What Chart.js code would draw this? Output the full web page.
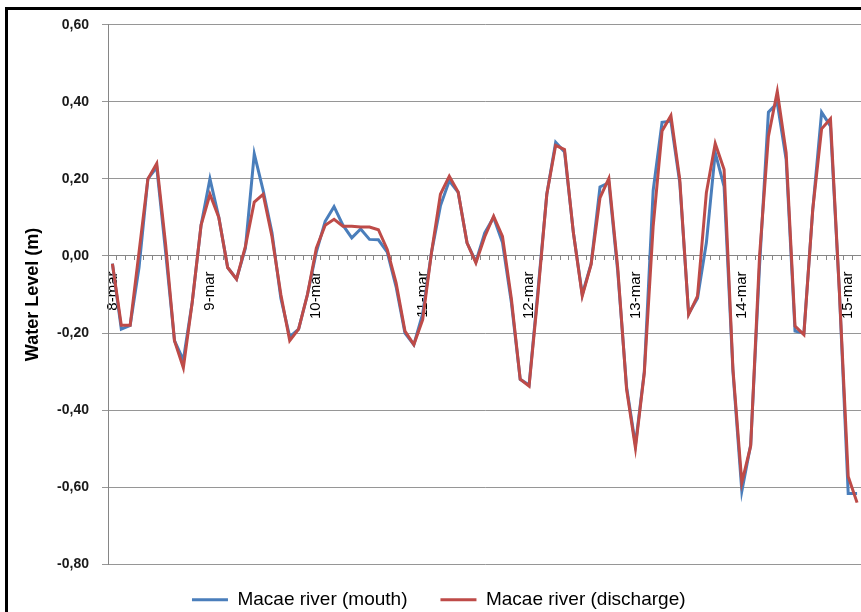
<!DOCTYPE html>
<html>
<head>
<meta charset="utf-8">
<title>Macae river water level</title>
<script src="https://cdn.jsdelivr.net/npm/chart.js@4.4.1/dist/chart.umd.min.js"></script>
<style>
  html, body { margin: 0; padding: 0; overflow: hidden; background: #fff; }
  #frame {
    position: absolute; left: 5px; top: 7px;
    border: 3px solid #000;
    width: 870px; height: 630px;
  }
  canvas { display: block; }
</style>
</head>
<body>
<div id="frame"><canvas id="chart" width="870" height="630"></canvas></div>
<script>
// Water level (m), one reading every 2 hours, 8-mar .. 15-mar
const dayLabels = ["8-mar", "9-mar", "10-mar", "11-mar", "12-mar", "13-mar", "14-mar", "15-mar"];
const dayLabelIndex = [0, 11, 23, 35, 47, 59, 71, 83];

const mouth = [
  -0.02, -0.19, -0.18, -0.03, 0.20, 0.23, 0.01, -0.22, -0.27, -0.12,
  0.08, 0.20, 0.10, -0.03, -0.06, 0.02, 0.265, 0.17, 0.06, -0.11,
  -0.21, -0.19, -0.10, 0.01, 0.09, 0.128, 0.08, 0.047, 0.07, 0.043,
  0.042, 0.01, -0.08, -0.20, -0.23, -0.15, 0.01, 0.13, 0.195, 0.165,
  0.034, -0.015, 0.06, 0.10, 0.035, -0.12, -0.32, -0.335, -0.09, 0.16,
  0.295, 0.27, 0.06, -0.10, -0.02, 0.179, 0.19, -0.04, -0.34, -0.49,
  -0.30, 0.17, 0.347, 0.35, 0.19, -0.15, -0.11, 0.034, 0.268, 0.18,
  -0.30, -0.61, -0.49, -0.026, 0.373, 0.397, 0.25, -0.195, -0.20, 0.12,
  0.373, 0.337, -0.09, -0.616, -0.616
];

const discharge = [
  -0.02, -0.18, -0.18, 0.01, 0.20, 0.24, 0.03, -0.22, -0.29, -0.12,
  0.08, 0.16, 0.10, -0.03, -0.06, 0.025, 0.14, 0.16, 0.05, -0.10,
  -0.22, -0.19, -0.10, 0.02, 0.08, 0.095, 0.077, 0.077, 0.075, 0.075,
  0.068, 0.017, -0.07, -0.195, -0.23, -0.165, 0.01, 0.16, 0.207, 0.166,
  0.034, -0.018, 0.05, 0.103, 0.051, -0.11, -0.32, -0.338, -0.10, 0.16,
  0.287, 0.276, 0.06, -0.104, -0.022, 0.151, 0.201, -0.03, -0.346, -0.498,
  -0.303, 0.077, 0.324, 0.364, 0.198, -0.152, -0.104, 0.164, 0.292, 0.224,
  -0.294, -0.588, -0.493, 0.0, 0.31, 0.427, 0.268, -0.182, -0.204, 0.12,
  0.33, 0.356, -0.09, -0.572, -0.64
];

const yMin = -0.8, yMax = 0.6, yStep = 0.2;

// category labels: only the day names are shown
const categories = mouth.map(() => "");
dayLabelIndex.forEach((idx, k) => { categories[idx] = dayLabels[k]; });

const FONT = "'Liberation Sans', Arial, sans-serif";

// scales should not push the plot area in with their label overhang
function noOverhang(scale) {
  scale.paddingTop = 0;
  scale.paddingBottom = 0;
  scale.paddingLeft = 0;
  scale.paddingRight = 0;
}

// legend sits a little closer to the plot than its padding would give
const legendLift = {
  id: "legendLift",
  afterLayout(chart) {
    chart.legend.top -= 7;
    chart.legend.bottom -= 7;
  }
};

new Chart(document.getElementById("chart"), {
  type: "line",
  data: {
    labels: categories,
    datasets: [
      {
        label: "Macae river (mouth)",
        data: mouth,
        borderColor: "#4a7ebb",
        backgroundColor: "#4a7ebb",
        borderWidth: 3,
        pointRadius: 0,
        tension: 0,
        order: 2
      },
      {
        label: "Macae river (discharge)",
        data: discharge,
        borderColor: "#be4b48",
        backgroundColor: "#be4b48",
        borderWidth: 3,
        pointRadius: 0,
        tension: 0,
        order: 1
      }
    ]
  },
  plugins: [legendLift],
  options: {
    responsive: false,
    animation: false,
    layout: { padding: { left: 8, right: 16.5, top: 14.7, bottom: 13.7 } },
    plugins: {
      tooltip: { enabled: false },
      legend: {
        position: "bottom",
        labels: {
          font: { family: FONT, size: 19 },
          color: "#000",
          usePointStyle: true,
          pointStyle: "line",
          pointStyleWidth: 36,
          padding: 33,
          sort: (a, b) => a.datasetIndex - b.datasetIndex
        }
      }
    },
    scales: {
      x: {
        type: "category",
        position: { y: 0 },
        offset: true,
        afterFit: noOverhang,
        grid: {
          offset: true,
          drawOnChartArea: false,
          drawTicks: true,
          tickLength: 4,
          color: "#868686"
        },
        border: { display: true, color: "#868686", width: 1 },
        ticks: {
          autoSkip: false,
          maxRotation: 90,
          minRotation: 90,
          padding: 11.5,
          color: "#000",
          font: { family: FONT, size: 15 }
        }
      },
      y: {
        min: yMin,
        max: yMax,
        afterFit: (scale) => { scale.width = 92; noOverhang(scale); },
        ticks: {
          stepSize: yStep,
          padding: 13,
          color: "#1a1a1a",
          font: { family: FONT, size: 14, weight: "bold" },
          callback: (v) => (Math.abs(v) < 1e-9 ? 0 : v).toFixed(2).replace(".", ",")
        },
        grid: { color: "#969696", tickLength: 6 },
        border: { display: true, color: "#868686" },
        title: {
          display: true,
          text: "Water Level (m)",
          color: "#000",
          font: { family: FONT, size: 18, weight: "bold" },
          padding: { top: 6, bottom: 0 }
        }
      }
    }
  }
});
</script>
</body>
</html>
